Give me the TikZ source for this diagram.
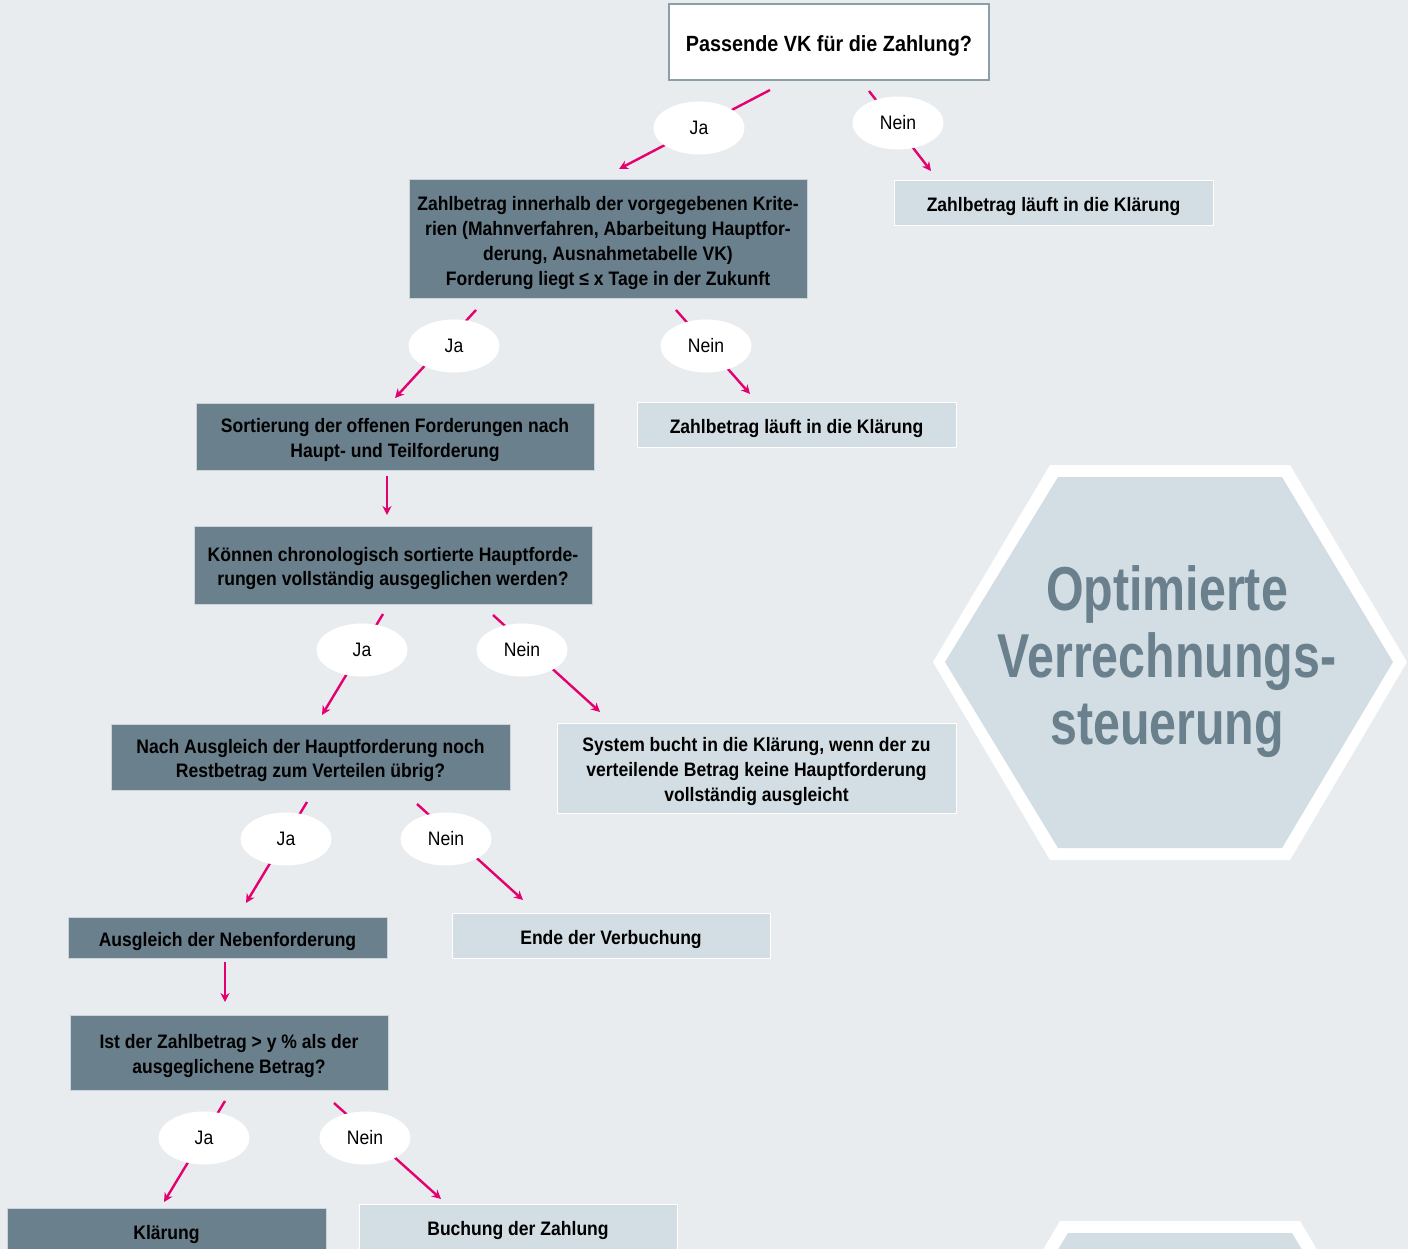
\documentclass[tikz,border=0pt]{standalone}
\usepackage{fontspec}
\setmainfont[FakeStretch=0.9]{Liberation Sans}
\newfontfamily\titlefont[FakeStretch=0.78]{Liberation Sans}
\usetikzlibrary{shapes.geometric,arrows.meta}
\definecolor{bg}{HTML}{E8ECEF}
\definecolor{dk}{HTML}{6A808D}
\definecolor{lt}{HTML}{D3DEE4}
\definecolor{mag}{HTML}{E5006F}
\definecolor{edgeL}{HTML}{C9D3D9}
\definecolor{topedge}{HTML}{8C9EA8}
\tikzset{
  box/.style={rectangle, inner sep=0pt},
  bt/.style={align=center, text=black, inner sep=0pt, yshift=-3.5pt,
    font=\bfseries\fontsize{19.5}{24.7}\selectfont},
  darkbox/.style={box, fill=dk, draw=edgeL, line width=1pt},
  lightbox/.style={box, fill=lt, draw=white, line width=1pt},
  lab/.style={ellipse, fill=white, minimum width=91pt, minimum height=53pt,
    inner sep=0pt, font=\fontsize{19.5}{22}\selectfont},
  arr/.style={draw=mag, line width=2.4pt, -{Stealth[length=9pt,width=9pt]}},
  hexo/.style={fill=white},
  hexi/.style={fill=lt}
}
\begin{document}
\begin{tikzpicture}[x=1pt,y=-1pt]
\useasboundingbox (0,0) rectangle (1408,1249);
\begin{scope}
\clip (0,0) rectangle (1408,1249);
\fill[bg] (0,0) rectangle (1408,1249);
% hexagons
\fill[hexo] (933,662) -- (1050,465) -- (1290,465) -- (1407,662) -- (1290,860) -- (1050,860) -- cycle;
\fill[hexi] (945,662) -- (1058,477) -- (1282,477) -- (1393,662) -- (1282,848) -- (1058,848) -- cycle;
\begin{scope}[shift={(10,756)}]
\fill[hexo] (933,662) -- (1050,465) -- (1290,465) -- (1407,662) -- (1290,860) -- (1050,860) -- cycle;
\fill[hexi] (945,662) -- (1058,477) -- (1282,477) -- (1393,662) -- (1282,848) -- (1058,848) -- cycle;
\end{scope}
\node[align=center, text=dk, font=\titlefont\bfseries\fontsize{62}{67}\selectfont] (title) at (1167,662)
  {Optimierte\\Verrechnungs-\\steuerung};

% boxes
\node[box, fill=white, draw=topedge, line width=1.2pt, minimum width=320pt, minimum height=76pt,
  label={[bt, font=\bfseries\fontsize{22}{26}\selectfont]center:{Passende VK für die Zahlung?}}] (top) at (829,42) {};
\node[lightbox, minimum width=319pt, minimum height=45pt,
  label={[bt]center:{Zahlbetrag läuft in die Klärung}}] (r1) at (1053.5,203.5) {};
\node[darkbox, minimum width=398pt, minimum height=119pt,
  label={[bt]center:{Zahlbetrag innerhalb der vorgegebenen Krite-\\rien (Mahnverfahren, Abarbeitung Hauptfor-\\derung, Ausnahmetabelle VK)\\Forderung liegt ≤ x Tage in der Zukunft}}] (crit) at (608,239.5) {};
\node[lightbox, minimum width=319pt, minimum height=45pt,
  label={[bt]center:{Zahlbetrag läuft in die Klärung}}] (r2) at (796.5,424.5) {};
\node[darkbox, minimum width=398pt, minimum height=67pt,
  label={[bt]center:{Sortierung der offenen Forderungen nach\\Haupt- und Teilforderung}}] (sort) at (395,436.5) {};
\node[darkbox, minimum width=398pt, minimum height=78pt,
  label={[bt]center:{Können chronologisch sortierte Hauptforde-\\rungen vollständig ausgeglichen werden?}}] (koen) at (393,565) {};
\node[darkbox, minimum width=399pt, minimum height=66pt,
  label={[bt]center:{Nach Ausgleich der Hauptforderung noch\\Restbetrag zum Verteilen übrig?}}] (nach) at (310.5,757) {};
\node[lightbox, minimum width=399pt, minimum height=90pt,
  label={[bt]center:{System bucht in die Klärung, wenn der zu\\verteilende Betrag keine Hauptforderung\\vollständig ausgleicht}}] (sys) at (756.5,768) {};
\node[darkbox, minimum width=319pt, minimum height=41pt,
  label={[bt]center:{Ausgleich der Nebenforderung}}] (ausg) at (227.5,937.5) {};
\node[lightbox, minimum width=318pt, minimum height=45pt,
  label={[bt]center:{Ende der Verbuchung}}] (ende) at (611,935.5) {};
\node[darkbox, minimum width=318pt, minimum height=75pt,
  label={[bt]center:{Ist der Zahlbetrag > y \% als der\\ausgeglichene Betrag?}}] (ist) at (229,1052.5) {};
\node[darkbox, minimum width=319pt, minimum height=45pt,
  label={[bt]center:{Klärung}}] (klae) at (166.5,1230.5) {};
\node[lightbox, minimum width=318pt, minimum height=45pt,
  label={[bt]center:{Buchung der Zahlung}}] (buch) at (518,1226.5) {};

% connector end points
\coordinate (s1) at (770,90);   \coordinate (e1) at (619,169);
\coordinate (s2) at (869,91);   \coordinate (e2) at (931,171);
\coordinate (s3) at (476,310);  \coordinate (e3) at (395,398);
\coordinate (s4) at (676,310);  \coordinate (e4) at (750,394);
\coordinate (s5) at (387,476);  \coordinate (e5) at (387,515);
\coordinate (s6) at (383,614);  \coordinate (e6) at (322,715);
\coordinate (s7) at (493,615);  \coordinate (e7) at (600,712);
\coordinate (s8) at (307,802);  \coordinate (e8) at (246,903);
\coordinate (s9) at (417,804);  \coordinate (e9) at (523,900);
\coordinate (s10) at (225,962); \coordinate (e10) at (225,1002);
\coordinate (s11) at (225,1101); \coordinate (e11) at (164,1202);
\coordinate (s12) at (334,1103); \coordinate (e12) at (441,1199);
\foreach \i in {1,...,12} { \draw[arr] (s\i) -- (e\i); }

% labels
\node[lab] (ja1) at (699,128) {Ja};
\node[lab] (ne1) at (898,123) {Nein};
\node[lab] (ja2) at (454,346) {Ja};
\node[lab] (ne2) at (706,346) {Nein};
\node[lab] (ja3) at (362,650) {Ja};
\node[lab] (ne3) at (522,650) {Nein};
\node[lab] (ja4) at (286,839) {Ja};
\node[lab] (ne4) at (446,839) {Nein};
\node[lab] (ja5) at (204,1138) {Ja};
\node[lab] (ne5) at (365,1138) {Nein};
\end{scope}
\end{tikzpicture}
\end{document}
